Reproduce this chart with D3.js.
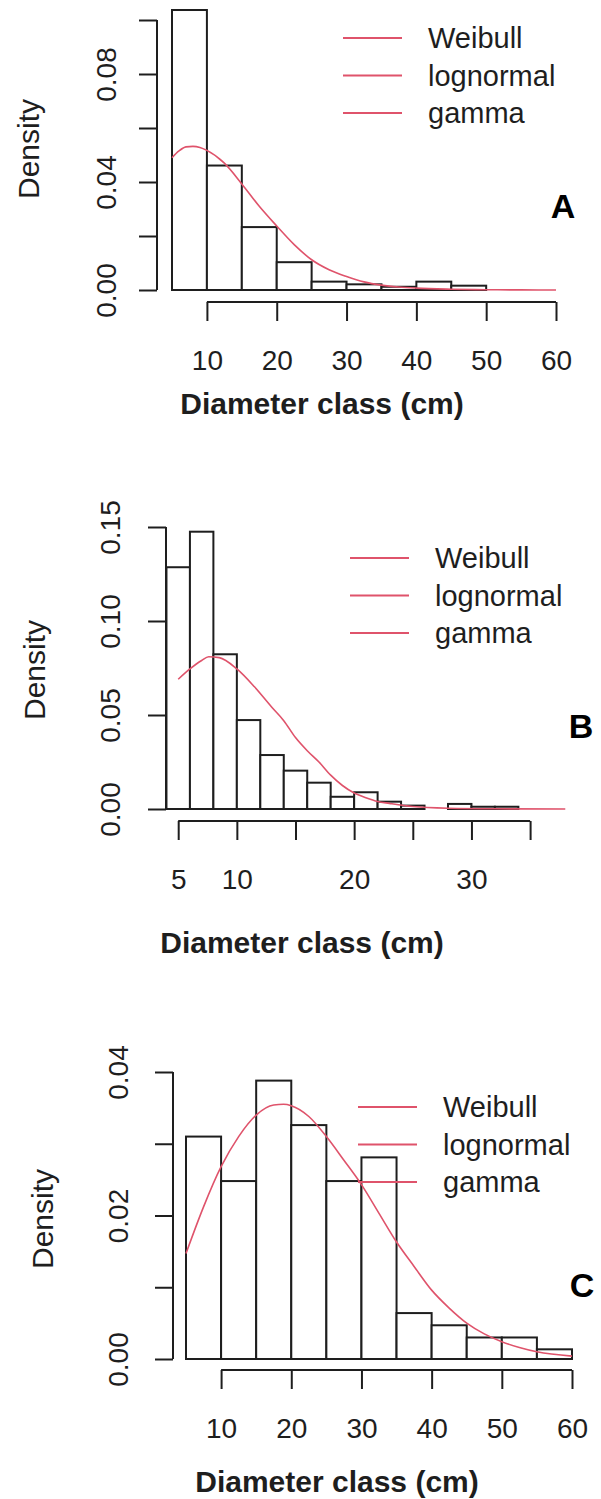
<!DOCTYPE html>
<html>
<head>
<meta charset="utf-8">
<script src="https://cdn.jsdelivr.net/npm/d3@7"></script>
<style>
  html, body { margin: 0; padding: 0; background: #fff; }
  svg { display: block; }
  text { font-family: "Liberation Sans", Arial, sans-serif; fill: #1e1e1e; }
</style>
</head>
<body>
<svg id="chart" width="601" height="1499"></svg>
<script>
// ---------------- DATA ----------------
const legendNames = ["Weibull", "lognormal", "gamma"];
const panelLetters = ["A", "B", "C"];
const xTitle = "Diameter class (cm)";
const yTitle = "Density";

// Panel A
const A_breaks  = [5, 10, 15, 20, 25, 30, 35, 40, 45, 50];
const A_density = [0.1037, 0.0461, 0.0233, 0.0103, 0.0031, 0.0021, 0.0012, 0.0031, 0.0016];
const A_curveX  = [5, 6, 7, 8, 9, 10, 12.5, 15, 17.5, 20, 22.5, 25, 27.5, 30, 32.5, 35, 37.5, 40, 45, 50, 55, 60];
const A_curveY  = [0.049, 0.0515, 0.053, 0.0532, 0.0528, 0.0517, 0.047, 0.0393, 0.031, 0.0237, 0.0168, 0.0112, 0.0075, 0.005, 0.003, 0.0018, 0.0011, 0.0007, 0.0003, 0.0001, 0.00003, 0];
const A_xTicks  = [10, 20, 30, 40, 50, 60];
const A_xLabels = [10, 20, 30, 40, 50, 60];
const A_yTicks  = [0, 0.02, 0.04, 0.06, 0.08, 0.10];
const A_yLabels = [0, 0.04, 0.08];

// Panel B
const B_breaks  = [4, 6, 8, 10, 12, 14, 16, 18, 20, 22, 24, 26, 28, 30, 32, 34];
const B_density = [0.1286, 0.1475, 0.0823, 0.0473, 0.0287, 0.0204, 0.014, 0.0065, 0.0089, 0.0039, 0.0018, 0, 0.0027, 0.0012, 0.0012];
const B_curveX  = [5, 6, 7, 7.6, 8.5, 10, 11.5, 13, 14, 15, 16, 17, 18, 19, 20, 21, 22, 23, 25, 28, 32, 38];
const B_curveY  = [0.069, 0.0745, 0.079, 0.081, 0.0805, 0.0745, 0.065, 0.054, 0.047, 0.038, 0.031, 0.025, 0.018, 0.0125, 0.0085, 0.006, 0.004, 0.003, 0.0013, 0.0004, 0.0001, 0];
const B_xTicks  = [5, 10, 15, 20, 25, 30, 35];
const B_xLabels = [5, 10, 20, 30];
const B_yTicks  = [0, 0.05, 0.10, 0.15];
const B_yLabels = [0, 0.05, 0.10, 0.15];

// Panel C
const C_breaks  = [5, 10, 15, 20, 25, 30, 35, 40, 45, 50, 55, 60];
const C_density = [0.031, 0.0248, 0.0388, 0.0326, 0.0248, 0.0281, 0.0064, 0.0047, 0.003, 0.003, 0.00135];
const C_curveX  = [5, 7.5, 10, 12.5, 15, 17.5, 18.9, 20, 22.5, 25, 27.5, 30, 32.5, 35, 37.5, 40, 42.5, 45, 47.5, 50, 52.5, 55, 60];
const C_curveY  = [0.0147, 0.0212, 0.0268, 0.031, 0.034, 0.0354, 0.0355, 0.0353, 0.0338, 0.031, 0.0277, 0.0243, 0.0203, 0.0163, 0.0129, 0.0096, 0.0071, 0.005, 0.0035, 0.0024, 0.0016, 0.001, 0.0004];
const C_xTicks  = [10, 20, 30, 40, 50, 60];
const C_xLabels = [10, 20, 30, 40, 50, 60];
const C_yTicks  = [0, 0.01, 0.02, 0.03, 0.04];
const C_yLabels = [0, 0.02, 0.04];

// ---------------- LAYOUT ----------------
const curveColor = "#DF536B";
const ink = "#1e1e1e";
const svg = d3.select("#chart");
svg.append("rect").attr("width", 601).attr("height", 1499).attr("fill", "#fff");

const panels = [
  { letter: panelLetters[0], breaks: A_breaks, dens: A_density, cx: A_curveX, cy: A_curveY,
    xT: A_xTicks, xL: A_xLabels, yT: A_yTicks, yL: A_yLabels, fmt: d3.format(".2f"),
    xDom: [5, 60], xRng: [172, 556], yDom: [0, 0.10], yRng: [290, 20],
    yAxisX: 157, yLabOff: 41, yTitleX: 39, yTitleY: 149,
    xAxisY: 302, xLabY: 68, titleX: 322, titleY: 414,
    legX: 343, legY: 38, letterX: 563, letterY: 218 },
  { letter: panelLetters[1], breaks: B_breaks, dens: B_density, cx: B_curveX, cy: B_curveY,
    xT: B_xTicks, xL: B_xLabels, yT: B_yTicks, yL: B_yLabels, fmt: d3.format(".2f"),
    xDom: [5, 35], xRng: [178.2, 530.1], yDom: [0, 0.15], yRng: [809, 527],
    yAxisX: 166, yLabOff: 46, yTitleX: 45, yTitleY: 670,
    xAxisY: 821, xLabY: 68, titleX: 302, titleY: 953,
    legX: 350, legY: 558, letterX: 581, letterY: 738 },
  { letter: panelLetters[2], breaks: C_breaks, dens: C_density, cx: C_curveX, cy: C_curveY,
    xT: C_xTicks, xL: C_xLabels, yT: C_yTicks, yL: C_yLabels, fmt: d3.format(".2f"),
    xDom: [5, 60], xRng: [186, 572], yDom: [0, 0.04], yRng: [1359, 1072],
    yAxisX: 173, yLabOff: 45, yTitleX: 53, yTitleY: 1219,
    xAxisY: 1370, xLabY: 68, titleX: 337, titleY: 1492,
    legX: 358, legY: 1107, letterX: 582, letterY: 1297 }
];

panels.forEach(p => {
  const g = svg.append("g");
  const x = d3.scaleLinear().domain(p.xDom).range(p.xRng);
  const y = d3.scaleLinear().domain(p.yDom).range(p.yRng);

  // histogram bars
  const bins = p.dens.map((d, i) => ({ x0: p.breaks[i], x1: p.breaks[i + 1], d }));
  g.append("g").selectAll("rect").data(bins).join("rect")
    .attr("x", b => x(b.x0))
    .attr("y", b => y(b.d))
    .attr("width", b => x(b.x1) - x(b.x0))
    .attr("height", b => y(0) - y(b.d))
    .attr("fill", "#fff")
    .attr("stroke", ink)
    .attr("stroke-width", 2);

  // fitted density curve
  const pts = p.cx.map((v, i) => [v, p.cy[i]]);
  g.append("path").datum(pts)
    .attr("fill", "none")
    .attr("stroke", curveColor)
    .attr("stroke-width", 1.6)
    .attr("d", d3.line().x(d => x(d[0])).y(d => y(d[1])).curve(d3.curveMonotoneX));

  // y axis
  const ya = g.append("g").attr("transform", `translate(${p.yAxisX},0)`)
    .call(d3.axisLeft(y).tickValues(p.yT).tickSize(18).tickSizeOuter(0)
      .tickFormat(d => p.yL.some(v => Math.abs(v - d) < 1e-9) ? p.fmt(d) : ""));
  ya.select(".domain").remove();
  ya.append("line").attr("x1", 0).attr("x2", 0)
    .attr("y1", y(p.yT[0])).attr("y2", y(p.yT[p.yT.length - 1]))
    .attr("stroke", ink).attr("stroke-width", 2);
  ya.selectAll(".tick line").attr("stroke", ink).attr("stroke-width", 2);
  ya.selectAll(".tick text")
    .attr("transform", "rotate(-90)")
    .attr("x", 0).attr("y", -p.yLabOff).attr("dy", 0)
    .attr("text-anchor", "middle")
    .style("font-size", "28px").style("fill", ink)
    .style("font-family", '"Liberation Sans", Arial, sans-serif');

  // x axis
  const xa = g.append("g").attr("transform", `translate(0,${p.xAxisY})`)
    .call(d3.axisBottom(x).tickValues(p.xT).tickSize(19).tickSizeOuter(0)
      .tickFormat(d => p.xL.includes(d) ? d3.format("d")(d) : ""));
  xa.select(".domain").remove();
  xa.append("line").attr("y1", 0).attr("y2", 0)
    .attr("x1", x(p.xT[0])).attr("x2", x(p.xT[p.xT.length - 1]))
    .attr("stroke", ink).attr("stroke-width", 2);
  xa.selectAll(".tick line").attr("stroke", ink).attr("stroke-width", 2);
  xa.selectAll(".tick text")
    .attr("y", p.xLabY).attr("dy", 0)
    .style("font-size", "28px").style("fill", ink)
    .style("font-family", '"Liberation Sans", Arial, sans-serif');

  // axis titles
  g.append("text").attr("x", p.titleX).attr("y", p.titleY)
    .attr("text-anchor", "middle")
    .style("font-size", "30px").style("font-weight", "bold")
    .text(xTitle);
  g.append("text")
    .attr("transform", `translate(${p.yTitleX},${p.yTitleY}) rotate(-90)`)
    .attr("text-anchor", "middle")
    .style("font-size", "30px")
    .text(yTitle);

  // legend
  const lg = g.append("g").attr("transform", `translate(${p.legX},${p.legY})`);
  legendNames.forEach((n, i) => {
    lg.append("line").attr("x1", 0).attr("x2", 59)
      .attr("y1", i * 37.5).attr("y2", i * 37.5)
      .attr("stroke", curveColor).attr("stroke-width", 2);
    lg.append("text").attr("x", 85).attr("y", i * 37.5).attr("dy", "0.36em")
      .style("font-size", "29px").text(n);
  });

  // panel letter
  g.append("text").attr("x", p.letterX).attr("y", p.letterY)
    .attr("text-anchor", "middle")
    .style("font-size", "34px").style("font-weight", "bold")
    .style("fill", "#000")
    .text(p.letter);
});
</script>
</body>
</html>
